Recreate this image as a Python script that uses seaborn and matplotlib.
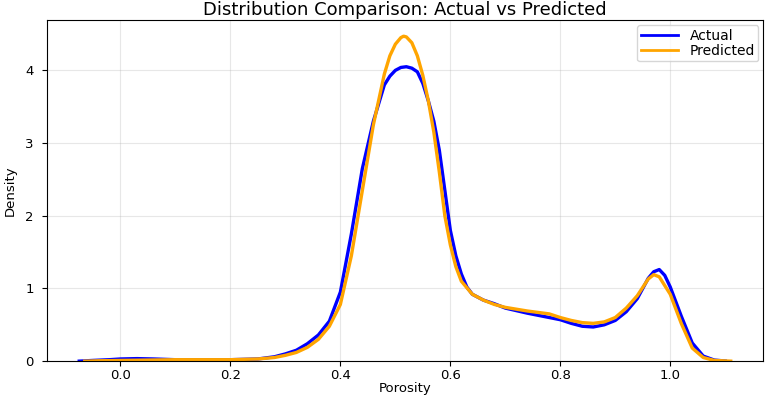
# plot_porosity_distribution.py

import pandas as pd
import matplotlib
matplotlib.use("Agg")
import matplotlib.pyplot as plt
import seaborn as sns

# ─── DATA (density curves) ──────────────────────────────────────
ACTUAL_X = [-0.075, -0.05, -0.02, 0.00, 0.03, 0.06, 0.10, 0.15, 0.20, 0.25,
            0.28, 0.30, 0.32, 0.34, 0.36, 0.38, 0.40, 0.42, 0.44, 0.46,
            0.48, 0.49, 0.50, 0.51, 0.52, 0.53, 0.54, 0.55, 0.56, 0.57,
            0.58, 0.59, 0.60, 0.61, 0.62, 0.63, 0.64, 0.66, 0.68, 0.70,
            0.74, 0.78, 0.80, 0.82, 0.84, 0.86, 0.88, 0.90, 0.92, 0.94,
            0.96, 0.97, 0.98, 0.99, 1.00, 1.02, 1.04, 1.06, 1.08, 1.10]
ACTUAL_Y = [0.0, 0.01, 0.02, 0.03, 0.035, 0.03, 0.02, 0.02, 0.02, 0.03,
            0.06, 0.10, 0.15, 0.24, 0.36, 0.55, 0.95, 1.75, 2.65, 3.3,
            3.8, 3.92, 4.0, 4.04, 4.05, 4.03, 3.98, 3.82, 3.58, 3.3,
            2.9, 2.35, 1.8, 1.45, 1.2, 1.02, 0.92, 0.84, 0.79, 0.73,
            0.66, 0.60, 0.57, 0.52, 0.48, 0.47, 0.50, 0.56, 0.68, 0.86,
            1.14, 1.23, 1.26, 1.18, 1.02, 0.62, 0.25, 0.07, 0.015, 0.002]

PRED_X = [-0.065, -0.04, 0.00, 0.05, 0.10, 0.15, 0.20, 0.25, 0.28, 0.30,
          0.32, 0.34, 0.36, 0.38, 0.40, 0.42, 0.44, 0.46, 0.48, 0.49,
          0.50, 0.51, 0.515, 0.52, 0.53, 0.54, 0.55, 0.56, 0.57, 0.58,
          0.59, 0.60, 0.61, 0.62, 0.64, 0.66, 0.68, 0.70, 0.74, 0.78,
          0.80, 0.82, 0.84, 0.86, 0.88, 0.90, 0.92, 0.94, 0.96, 0.97,
          0.98, 1.00, 1.02, 1.04, 1.06, 1.08, 1.11]
PRED_Y = [0.0, 0.005, 0.01, 0.015, 0.02, 0.02, 0.02, 0.03, 0.05, 0.08,
          0.12, 0.19, 0.30, 0.48, 0.78, 1.45, 2.35, 3.25, 3.95, 4.2,
          4.36, 4.45, 4.47, 4.46, 4.38, 4.2, 3.93, 3.58, 3.15, 2.6,
          2.0, 1.6, 1.3, 1.1, 0.92, 0.84, 0.78, 0.74, 0.69, 0.65,
          0.60, 0.56, 0.53, 0.52, 0.54, 0.60, 0.73, 0.90, 1.13, 1.19,
          1.16, 0.92, 0.52, 0.18, 0.05, 0.01, 0.0]
# ────────────────────────────────────────────────────────────────

actual = pd.DataFrame({"Porosity": ACTUAL_X, "Density": ACTUAL_Y})
pred = pd.DataFrame({"Porosity": PRED_X, "Density": PRED_Y})

fig = plt.figure(figsize=(7.67, 3.96), dpi=100)
ax = fig.add_axes([0.061, 0.088, 0.934, 0.861])

sns.lineplot(data=actual, x="Porosity", y="Density", color="blue",
             linewidth=2.4, label="Actual", ax=ax)
sns.lineplot(data=pred, x="Porosity", y="Density", color="orange",
             linewidth=2.4, label="Predicted", ax=ax)

ax.set_xlim(-0.134, 1.169)
ax.set_ylim(0, 4.69)
ax.set_xticks([0.0, 0.2, 0.4, 0.6, 0.8, 1.0])
ax.set_yticks([0, 1, 2, 3, 4])
ax.grid(True, alpha=0.3)
ax.tick_params(labelsize=9.5)
ax.tick_params(axis="x", pad=2)
ax.tick_params(axis="y", pad=6)
ax.set_xlabel("Porosity", fontsize=9.5, labelpad=0)
ax.set_ylabel("Density", fontsize=9.5, labelpad=6)
ax.set_title("Distribution Comparison: Actual vs Predicted", fontsize=13, pad=4)
leg = ax.legend(loc="upper right", fontsize=10, labelspacing=0.1,
                borderpad=0.25, handlelength=2.7, handletextpad=0.8,
                borderaxespad=0.35)
for line in leg.get_lines():
    line.set_linewidth(2.0)

fig.savefig("out.png", dpi=100)
